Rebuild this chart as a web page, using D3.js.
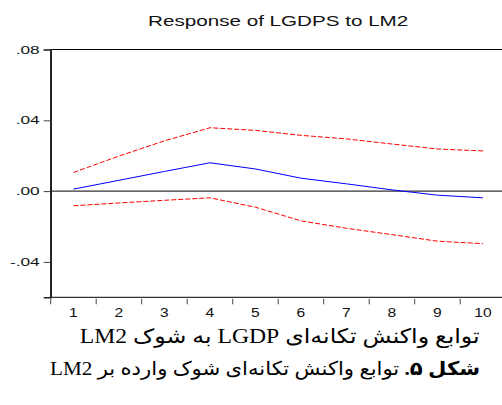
<!DOCTYPE html>
<html>
<head>
<meta charset="utf-8">
<script src="https://cdn.jsdelivr.net/npm/d3@7"></script>
<style>
  body { margin: 0; background: #fff; }
  #chart { position: relative; width: 502px; height: 405px; }
  svg { display: block; }
  .caption {
    position: absolute;
    white-space: nowrap;
    line-height: 1;
    color: #000;
    font-family: "Liberation Serif", "Times New Roman", "DejaVu Sans", serif;
    transform-origin: right top;
  }
</style>
</head>
<body>
<div id="chart"></div>
<script>
// impulse response values
const periods = ['1', '2', '3', '4', '5', '6', '7', '8', '9', '10'];
const response = [0.0011, 0.0061, 0.0111, 0.016, 0.0125, 0.0073, 0.0041, 0.0007, -0.0023, -0.0038];
const upperBand = [0.0105, 0.0198, 0.0284, 0.0358, 0.0343, 0.0315, 0.0295, 0.0266, 0.0238, 0.0227];
const lowerBand = [-0.0083, -0.0067, -0.0052, -0.0038, -0.0091, -0.0168, -0.021, -0.0246, -0.0283, -0.0297];
const yTicks = [0.08, 0.04, 0.0, -0.04];
const yTickLabels = ['.08', '.04', '.00', '-.04'];

const title = 'Response of LGDPS to LM2';
const caption1 = 'توابع واکنش تکانه‌ای LGDP به شوک LM2';
const caption2Bold = 'شکل ۵.';
const caption2 = ' توابع واکنش تکانه‌ای شوک وارده بر LM2';

const W = 502, H = 405;
const plot = { left: 50.7, right: 505.7, top: 49.5, bottom: 297.3 };

const chart = d3.select('#chart');
const svg = chart
  .append('svg')
  .attr('width', W)
  .attr('height', H)
  .style('font-family', '"Liberation Sans", Arial, sans-serif');

// stretch text horizontally, the original picture is squeezed
function stretch(sel, k) {
  sel.each(function () {
    const len = this.getComputedTextLength();
    d3.select(this)
      .attr('textLength', len * k)
      .attr('lengthAdjust', 'spacingAndGlyphs');
  });
}

const x = d3.scaleBand()
  .domain(periods)
  .range([plot.left, plot.right]);

const y = d3.scaleLinear()
  .domain([-0.06, 0.08])
  .range([plot.bottom, plot.top]);

// frame
svg.append('rect')
  .attr('x', plot.left)
  .attr('y', plot.top)
  .attr('width', plot.right - plot.left)
  .attr('height', plot.bottom - plot.top)
  .attr('fill', 'none')
  .attr('stroke', '#000')
  .attr('stroke-width', 1);

// y axis
const yAxis = svg.append('g')
  .attr('transform', `translate(${plot.left}, 0)`)
  .call(d3.axisLeft(y)
    .tickValues(yTicks)
    .tickFormat((d, i) => yTickLabels[i])
    .tickSize(7)
    .tickPadding(4));
yAxis.select('.domain').attr('stroke', '#222').attr('stroke-width', 1.6);
yAxis.selectAll('.tick line').attr('stroke', '#444');
yAxis.selectAll('.tick text')
  .attr('font-size', 11.5)
  .attr('fill', '#111')
  .call(stretch, 1.5);

// x axis: ticks on band edges, labels at band centres
const xAxis = svg.append('g')
  .attr('transform', `translate(0, ${plot.bottom + 1.5})`);
xAxis.selectAll('line')
  .data(periods.map((d) => x(d)).concat([x.range()[1]]))
  .enter()
  .append('line')
  .attr('x1', (d) => d)
  .attr('x2', (d) => d)
  .attr('y1', 0)
  .attr('y2', 5.5)
  .attr('stroke', '#444');
xAxis.selectAll('text')
  .data(periods)
  .enter()
  .append('text')
  .attr('x', (d) => x(d) + x.bandwidth() / 2)
  .attr('y', 18.5)
  .attr('text-anchor', 'middle')
  .attr('font-size', 12)
  .attr('fill', '#111')
  .text((d) => d)
  .call(stretch, 1.3);

// zero line
svg.append('line')
  .attr('x1', plot.left)
  .attr('x2', plot.right)
  .attr('y1', y(0))
  .attr('y2', y(0))
  .attr('stroke', '#000')
  .attr('stroke-width', 1);

const line = d3.line()
  .x((d, i) => x(periods[i]) + x.bandwidth() / 2)
  .y((d) => y(d));

svg.append('path')
  .datum(upperBand)
  .attr('d', line)
  .attr('fill', 'none')
  .attr('stroke', '#ff0000')
  .attr('stroke-width', 1)
  .attr('stroke-dasharray', '5,2');

svg.append('path')
  .datum(lowerBand)
  .attr('d', line)
  .attr('fill', 'none')
  .attr('stroke', '#ff0000')
  .attr('stroke-width', 1)
  .attr('stroke-dasharray', '5,2');

svg.append('path')
  .datum(response)
  .attr('d', line)
  .attr('fill', 'none')
  .attr('stroke', '#0000ff')
  .attr('stroke-width', 1);

// title
svg.append('text')
  .attr('x', (plot.left + plot.right) / 2)
  .attr('y', 26)
  .attr('text-anchor', 'middle')
  .attr('font-size', 15.5)
  .attr('fill', '#111')
  .text(title)
  .call(stretch, 1.33);

// captions below the chart, html text so the right-to-left order is right
function caption(top, right, width, size) {
  const div = chart.append('div')
    .attr('class', 'caption')
    .attr('dir', 'rtl')
    .style('top', top + 'px')
    .style('right', (W - right) + 'px')
    .style('font-size', size + 'px');
  return div;
}

const c1 = caption(326, 480, 400, 20);
c1.text(caption1);

const c2 = caption(359, 480, 430, 19);
c2.append('b').text(caption2Bold);
c2.append('span').text(caption2);

// fit each caption to the width it has in the picture
[[c1, 400], [c2, 430]].forEach(([c, w]) => {
  const actual = c.node().getBoundingClientRect().width;
  c.style('transform', `scaleX(${w / actual})`);
});
</script>
</body>
</html>
